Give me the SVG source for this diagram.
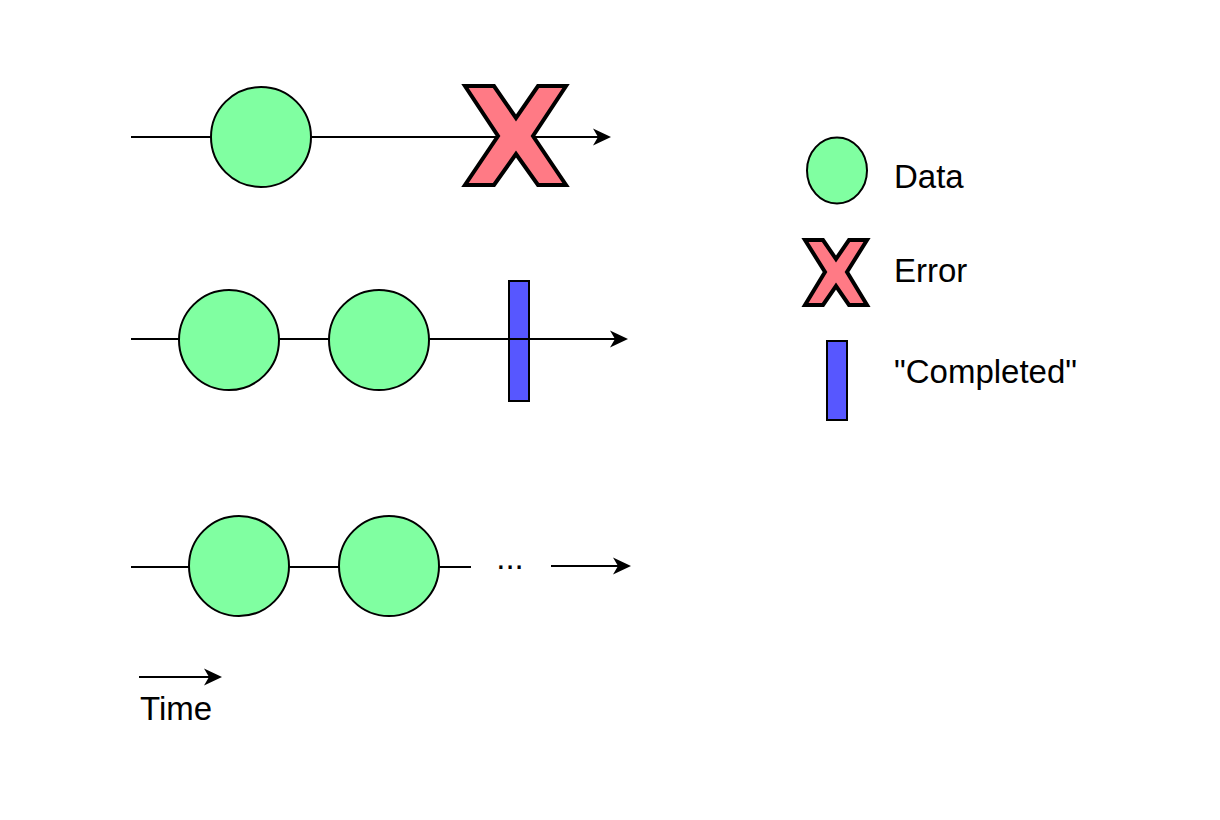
<svg xmlns="http://www.w3.org/2000/svg" xmlns:xlink="http://www.w3.org/1999/xlink" width="1220" height="820" viewBox="0 0 1220 820">
<style>
.ln{stroke:#000;stroke-width:2;fill:none}
.ah{fill:#000;stroke:none}
.data{fill:#80FFA1;stroke:#000;stroke-width:2}
.err{fill:#FF7A85;stroke:#000;stroke-width:4;stroke-linejoin:miter}
.done{fill:#5757FF;stroke:#000;stroke-width:2}
.t{font-family:"Liberation Sans",Arial,sans-serif;font-size:33px;fill:#000}
</style>
<defs>
<path id="ah" class="ah" d="M-18,-8.5 L0,0 L-18,8.5 L-13,0 Z"/>
</defs>
<rect width="1220" height="820" fill="#fff"/>
<g id="connectors">
<line class="ln" x1="131" y1="137" x2="600" y2="137"/>
<use href="#ah" xlink:href="#ah" x="611" y="137"/>
<line class="ln" x1="131" y1="339" x2="617" y2="339"/>
<use href="#ah" xlink:href="#ah" x="628" y="339"/>
<line class="ln" x1="131" y1="567" x2="471" y2="567"/>
<line class="ln" x1="551" y1="566" x2="620" y2="566"/>
<use href="#ah" xlink:href="#ah" x="631" y="566"/>
<line class="ln" x1="139" y1="677" x2="211" y2="677"/>
<use href="#ah" xlink:href="#ah" x="222" y="677"/>
</g>
<g id="row1">
<circle id="r1-data1" class="data" cx="261" cy="137" r="50"/>
<polygon id="r1-error" class="err" points="465,86 494,86 516,118 538,86 566,86 533,136 566,185 538,185 516,154 494,185 465,185 498,136"/>
</g>
<g id="row2">
<circle id="r2-data1" class="data" cx="229" cy="340" r="50"/>
<circle id="r2-data2" class="data" cx="379" cy="340" r="50"/>
<rect id="r2-complete" class="done" x="509" y="281" width="20" height="120"/>
<line class="ln" x1="509" y1="339" x2="529" y2="339"/>
</g>
<g id="row3">
<circle id="r3-data1" class="data" cx="239" cy="566" r="50"/>
<circle id="r3-data2" class="data" cx="389" cy="566" r="50"/>
<text id="r3-ellipsis" class="t" x="510" y="569" text-anchor="middle">...</text>
</g>
<g id="time">
<text class="t" x="140" y="720">Time</text>
</g>
<g id="legend-data">
<ellipse class="data" cx="837" cy="170.5" rx="30" ry="33"/>
<text class="t" x="894" y="188">Data</text>
</g>
<g id="legend-error">
<polygon class="err" points="805,240 823,240 836,259 849,240 867,240 847,272 867,305 849,305 836,286 823,305 805,305 825,272"/>
<text class="t" x="894" y="282">Error</text>
</g>
<g id="legend-completed">
<rect class="done" x="827" y="341" width="20" height="79"/>
<text class="t" x="894" y="383">"Completed"</text>
</g>
</svg>
